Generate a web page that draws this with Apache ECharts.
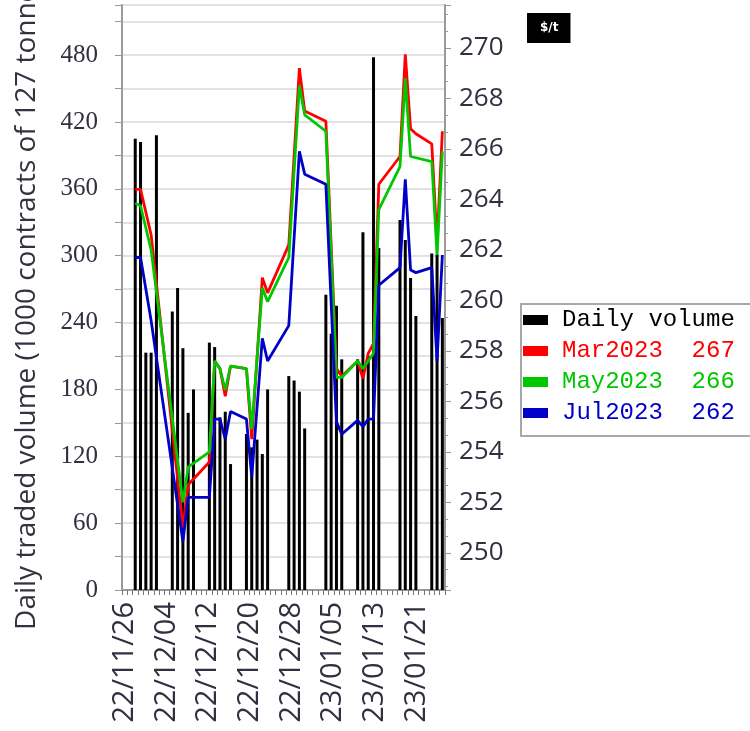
<!DOCTYPE html>
<html><head><meta charset="utf-8">
<script src="https://cdn.jsdelivr.net/npm/echarts@6/dist/echarts.min.js"></script>
<style>html,body{margin:0;padding:0;background:#fff}#c{width:750px;height:731px}</style>
</head><body><div id="c"></div>
<script>
// trading days (one slot per calendar day)
const dates = ['22/11/26','22/11/27','22/11/28','22/11/29','22/11/30','22/12/01','22/12/02','22/12/03','22/12/04','22/12/05',
'22/12/06','22/12/07','22/12/08','22/12/09','22/12/10','22/12/11','22/12/12','22/12/13','22/12/14','22/12/15',
'22/12/16','22/12/17','22/12/18','22/12/19','22/12/20','22/12/21','22/12/22','22/12/23','22/12/24','22/12/25',
'22/12/26','22/12/27','22/12/28','22/12/29','22/12/30','22/12/31','23/01/01','23/01/02','23/01/03','23/01/04',
'23/01/05','23/01/06','23/01/07','23/01/08','23/01/09','23/01/10','23/01/11','23/01/12','23/01/13','23/01/14',
'23/01/15','23/01/16','23/01/17','23/01/18','23/01/19','23/01/20','23/01/21','23/01/22','23/01/23','23/01/24',
'23/01/25'];
// date tick labels shown under the axis (every 8th day is labelled)
const tickDates = ['22/11/26','22/11/27','22/11/28','22/11/29','22/11/30','22/12/01','22/12/02','22/12/03','22/12/04','22/12/05',
'22/12/06','22/12/07','22/12/08','22/12/09','22/12/10','22/12/11','22/12/12','22/12/13','22/12/14','22/12/15',
'22/12/16','22/12/17','22/12/18','22/12/19','22/12/20','22/12/21','22/12/22','22/12/23','22/12/24','22/12/25',
'22/12/26','22/12/27','22/12/28','22/12/29','22/12/30','22/12/31','23/01/01','23/01/02','23/01/03','23/01/04',
'23/01/05','23/01/06','23/01/07','23/01/08','23/01/09','23/01/10','23/01/11','23/01/12','23/01/13','23/01/14',
'23/01/15','23/01/16','23/01/17','23/01/18','23/01/19','23/01/20','23/01/21','23/01/22','23/01/23','23/01/24',
'23/01/25','23/01/26'];
const volume = [null,null,405,402,213,213,408,null,null,250,
271,217,159,180,null,null,222,218,155,160,
113,null,null,140,128,135,122,180,null,null,
null,192,188,178,145,null,null,null,265,230,
255,207,null,null,207,321,210,478,307,null,
null,null,332,314,280,246,null,null,302,301,
244];
const mar2023 = [null,null,264.4,264.4,null,262.6,null,null,null,null,
null,251.0,252.7,null,null,null,253.6,257.6,257.3,256.2,
257.4,null,null,257.3,254.5,null,260.9,260.3,null,null,
null,262.2,null,269.2,267.5,null,null,null,267.1,null,
257.3,257.0,null,null,257.6,256.9,257.9,258.3,264.6,null,
null,null,265.7,269.75,266.8,266.6,null,null,266.2,262.3,
266.7];
const may2023 = [null,null,263.85,263.75,null,262.0,null,null,null,null,
null,252.0,253.4,null,null,null,254.0,257.6,257.3,256.45,
257.4,null,null,257.3,254.9,null,260.5,259.95,null,null,
null,261.7,null,268.5,267.35,null,null,null,266.7,null,
256.95,256.95,null,null,257.6,257.3,257.6,257.9,263.6,null,
null,null,265.3,268.8,265.7,265.65,null,null,265.5,261.8,
265.9];
const jul2023 = [null,null,261.7,261.7,null,259.2,null,null,null,null,
null,250.45,252.2,null,null,null,252.2,255.3,255.3,254.5,
255.6,null,null,255.3,253.0,null,258.5,257.6,null,null,
null,259.0,null,265.9,265.0,null,null,null,264.6,null,
255.2,254.7,null,null,255.25,255.0,255.3,255.3,260.6,null,
null,null,261.3,264.8,261.2,261.1,null,null,261.3,257.6,
261.8];
const seriesNames = ['Daily volume','Mar2023','May2023','Jul2023'];
const seriesColors = ['#000000','#ff0000','#00c800','#0000c8'];
const volumeTicks = [0,60,120,180,240,300,360,420,480];
const priceTicks = [250,252,254,256,258,260,262,264,266,268,270];

const lastVal = a => { for (let i=a.length-1;i>=0;i--) if (a[i]!=null) return a[i]; return null; };
const priceData = [mar2023, may2023, jul2023];
const legendText = {};
seriesNames.forEach((n,k)=>{ legendText[n] = k===0 ? n : n + '  ' + Math.round(lastVal(priceData[k-1])); });

const chart = echarts.init(document.getElementById('c'), null, {renderer:'canvas'});
const axisColor = '#9a9a9a';
const labelColor = '#2f3040';
chart.setOption({
  animation:false,
  backgroundColor:'#fff',
  grid:{left:122, right:305, top:5, bottom:141, containLabel:false, outerBoundsMode:'none'},
  legend:{
    orient:'vertical', left:520, top:303,
    data: seriesNames.map((n,k)=>({name:n, icon:'rect', textStyle:{color:seriesColors[k]}})),
    itemWidth:25, itemHeight:10, itemGap:7,
    padding:[5,20,11,3],
    borderWidth:0,
    selectedMode:false,
    formatter: n => legendText[n],
    textStyle:{fontFamily:'Liberation Mono', fontSize:24, lineHeight:24, padding:[0,0,0,9]}
  },
  graphic:[
    {type:'rect', left:520, top:303, z:-1, silent:true,
      shape:{width:260, height:132}, style:{fill:'#fff', stroke:'#a8a8a8', lineWidth:2}},
    {type:'text', left:527, top:13, z:10,
      style:{text:'$/t', fill:'#fff', backgroundColor:'#000', font:'bold 12px "DejaVu Sans"', padding:[9,12,9,13]}}
  ],
  xAxis:[{
    type:'category', data:dates, boundaryGap:true,
    axisLine:{lineStyle:{color:axisColor, width:2}},
    axisTick:{show:true, interval:0, length:5, lineStyle:{color:'#777'}},
    axisLabel:{show:false},
    splitLine:{show:false}
  },{
    type:'category', data:tickDates, boundaryGap:true, position:'bottom',
    axisLine:{show:false}, axisTick:{show:false}, splitLine:{show:false},
    axisLabel:{interval:7, rotate:90, margin:12, fontFamily:'Open Sans', fontSize:29, color:labelColor}
  }],
  yAxis:[{
    type:'value', min:0, max:525, interval:30, position:'left',
    name:'Daily traded volume (1000 contracts of 127 tonnes)', nameLocation:'middle', nameGap:81,
    nameTextStyle:{fontFamily:'Open Sans', fontSize:28, color:'#333340'},
    axisLine:{show:true, lineStyle:{color:axisColor, width:2}},
    axisTick:{show:true, length:7, lineStyle:{color:axisColor}},
    axisLabel:{margin:24, fontFamily:'Liberation Serif', fontSize:25, color:labelColor,
      formatter: v => volumeTicks.includes(v) ? String(v) : ''},
    splitLine:{show:true, lineStyle:{color:'#e2e2e2', width:2}}
  },{
    type:'value', min:248.53, max:271.7, minInterval:2, maxInterval:2, splitNumber:10, position:'right',
    axisLine:{show:true, lineStyle:{color:axisColor, width:2}},
    axisTick:{show:true, length:6, lineStyle:{color:axisColor}},
    minorTick:{show:true, splitNumber:3, length:3, lineStyle:{color:axisColor}},
    axisLabel:{margin:14, fontFamily:'Open Sans', fontSize:26, color:labelColor, showMinLabel:false, showMaxLabel:false,
      formatter: v => priceTicks.includes(v) ? String(v) : ''},
    splitLine:{show:false}
  }],
  series:[
    {name:'Daily volume', type:'bar', xAxisIndex:0, yAxisIndex:0, data:volume, barWidth:3, itemStyle:{color:seriesColors[0]}},
    {name:'Mar2023', type:'line', xAxisIndex:0, yAxisIndex:1, data:mar2023, connectNulls:true, showSymbol:false, symbol:'none', lineStyle:{color:seriesColors[1], width:2.8}, itemStyle:{color:seriesColors[1]}, z:3},
    {name:'May2023', type:'line', xAxisIndex:0, yAxisIndex:1, data:may2023, connectNulls:true, showSymbol:false, symbol:'none', lineStyle:{color:seriesColors[2], width:2.8}, itemStyle:{color:seriesColors[2]}, z:4},
    {name:'Jul2023', type:'line', xAxisIndex:0, yAxisIndex:1, data:jul2023, connectNulls:true, showSymbol:false, symbol:'none', lineStyle:{color:seriesColors[3], width:2.8}, itemStyle:{color:seriesColors[3]}, z:5}
  ]
});
</script></body></html>
